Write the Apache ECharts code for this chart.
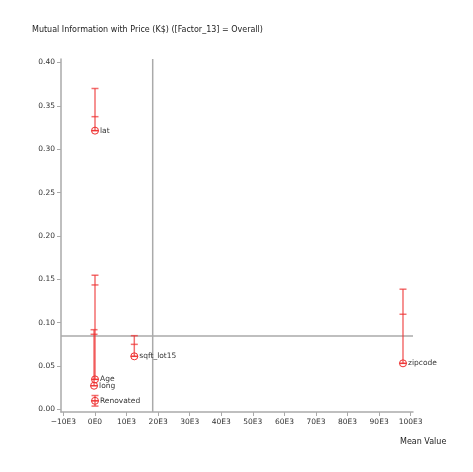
<!DOCTYPE html>
<html>
<head>
<meta charset="utf-8">
<script src="https://cdn.jsdelivr.net/npm/echarts@6/dist/echarts.min.js"></script>
<style>html,body{margin:0;padding:0;background:#fff;}#c{width:473px;height:472px;}</style>
</head>
<body>
<div id="c"></div>
<script>
const names = ['lat', 'Age', 'long', 'Renovated', 'sqft_lot15', 'zipcode'];
const meanValues = [0, 0, -300, 0, 12450, 97560];
const miValues = [0.3214, 0.0346, 0.0273, 0.0099, 0.0612, 0.0531];
const lowValues = [0.3214, 0.0346, 0.0273, 0.0038, 0.0612, 0.0531];
const midValues = [0.3375, 0.1435, 0.0866, 0.0099, 0.0750, 0.1097];
const highValues = [0.3700, 0.1547, 0.0919, 0.0160, 0.0850, 0.1386];
const xTicks = [-10000, 0, 10000, 20000, 30000, 40000, 50000, 60000, 70000, 80000, 90000, 100000];
const yTicks = [0, 0.05, 0.10, 0.15, 0.20, 0.25, 0.30, 0.35, 0.40];
const refX = 18277;
const refY = 0.0846;

const FONT = 'DejaVu Sans';
const RED = '#ee3030';

const data = names.map((n, i) => [meanValues[i], miValues[i], lowValues[i], midValues[i], highValues[i], n]);

function renderItem(params, api) {
  const x = api.value(0);
  const pv = api.coord([x, api.value(1)]);
  const pl = api.coord([x, api.value(2)]);
  const pm = api.coord([x, api.value(3)]);
  const ph = api.coord([x, api.value(4)]);
  const name = data[params.dataIndex][5];
  const barStyle = { stroke: RED, lineWidth: 1.5, opacity: 0.7 };
  const cw = 3.5;
  return {
    type: 'group',
    children: [
      { type: 'line', shape: { x1: pl[0], y1: pl[1], x2: ph[0], y2: ph[1] }, style: barStyle },
      { type: 'line', shape: { x1: ph[0] - cw, y1: ph[1], x2: ph[0] + cw, y2: ph[1] }, style: barStyle },
      { type: 'line', shape: { x1: pm[0] - cw, y1: pm[1], x2: pm[0] + cw, y2: pm[1] }, style: barStyle },
      { type: 'line', shape: { x1: pl[0] - cw, y1: pl[1], x2: pl[0] + cw, y2: pl[1] }, style: barStyle },
      { type: 'circle', shape: { cx: pv[0], cy: pv[1], r: 3.5 }, style: { fill: 'rgba(255,255,255,0)', stroke: RED, lineWidth: 1 } },
      { type: 'line', shape: { x1: pv[0] - 3.5, y1: pv[1], x2: pv[0] + 3.5, y2: pv[1] }, style: { stroke: RED, lineWidth: 1 } },
      { type: 'text', x: pv[0] + 5, y: pv[1], style: { text: name, fill: '#333', font: '7.5px "' + FONT + '"', textVerticalAlign: 'middle', textAlign: 'left' } }
    ]
  };
}

function renderRef(params, api) {
  const p = api.coord([api.value(0), api.value(1)]);
  const cs = params.coordSys;
  const st = { stroke: '#aaa', lineWidth: 1.5 };
  return {
    type: 'group',
    children: [
      { type: 'line', shape: { x1: p[0], y1: cs.y, x2: p[0], y2: cs.y + cs.height }, style: st },
      { type: 'line', shape: { x1: cs.x, y1: p[1], x2: cs.x + cs.width, y2: p[1] }, style: st }
    ]
  };
}

const chart = echarts.init(document.getElementById('c'));
chart.setOption({
  animation: false,
  backgroundColor: '#fff',
  title: {
    text: 'Mutual Information with Price (K$) ([Factor_13] = Overall)',
    left: 27, top: 21,
    textStyle: { fontFamily: FONT, fontSize: 8, fontWeight: 'normal', color: '#222' }
  },
  grid: { left: 61, top: 59, width: 352, height: 353, containLabel: false },
  xAxis: {
    type: 'value', min: -10770, max: 100730,
    name: 'Mean Value', nameLocation: 'end',
    nameTextStyle: { fontFamily: FONT, fontSize: 8, color: '#222', padding: [26, 0, 0, -28], verticalAlign: 'top' },
    splitLine: { show: false },
    axisLine: { show: true, onZero: false, lineStyle: { color: '#aaa', width: 1.5 } },
    axisTick: { show: true, length: 4, customValues: xTicks, lineStyle: { color: '#aaa' } },
    axisLabel: { customValues: xTicks, fontFamily: FONT, fontSize: 7.5, color: '#333', margin: 6,
      formatter: v => v === 0 ? '0E0' : ((v < 0 ? '\u2212' : '') + Math.abs(Math.round(v / 1000)) + 'E3') }
  },
  yAxis: {
    type: 'value', min: -0.003, max: 0.404,
    splitLine: { show: false },
    axisLine: { show: true, onZero: false, lineStyle: { color: '#aaa', width: 1.5 } },
    axisTick: { show: true, length: 4, customValues: yTicks, lineStyle: { color: '#aaa' } },
    axisLabel: { customValues: yTicks, fontFamily: FONT, fontSize: 7.5, color: '#333', margin: 6,
      formatter: v => v.toFixed(2) }
  },
  series: [
    {
      type: 'custom', renderItem: renderRef, data: [[refX, refY]], silent: true, z: 1
    },
    {
      type: 'custom', renderItem: renderItem, data: data, clip: false, z: 2,
      encode: { x: 0, y: [1, 2, 3, 4] }
    }
  ]
});
</script>
</body>
</html>
